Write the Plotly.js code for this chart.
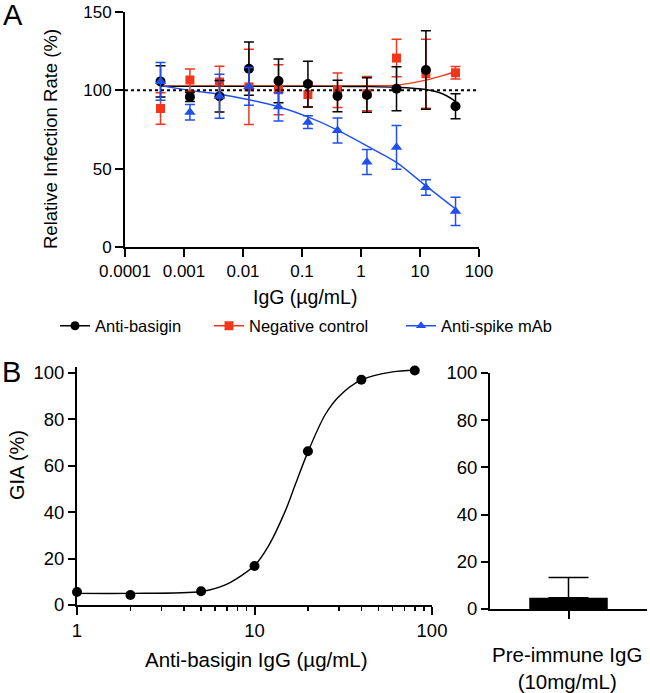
<!DOCTYPE html>
<html>
<head>
<meta charset="utf-8">
<script src="https://cdn.plot.ly/plotly-3.0.1.min.js"></script>
<style>
  html, body { margin: 0; padding: 0; background: #fff; }
  #chart { width: 650px; height: 693px; }
</style>
</head>
<body>
<div id="chart"></div>
<script>
// Panel A: infection rate vs IgG concentration (half-log dilutions)
const conc = [0.0004, 0.00126, 0.004, 0.0126, 0.04, 0.126, 0.4, 1.26, 4, 12.6, 40];
const basiginRate = [105.7, 95.8, 96.2, 113.8, 106, 104, 96.4, 97, 101, 113, 89.8];
const basiginErr = [10, 3, 10, 17, 14, 14.6, 10, 11, 14, 25, 8];
const negRate = [88.4, 106.6, 105.3, 102.2, 100.4, 97.3, 100, 97.9, 120.6, 110.6, 111.2];
const negErr = [10, 7, 10, 24, 16, 8, 11, 11, 12, 22, 4];
const spikeRate = [105.7, 86, 96.2, 102.5, 89.5, 79.7, 74.4, 54.3, 63.6, 38, 22.8];
const spikeErr = [12, 5, 14, 12, 9, 4, 8, 8, 14, 5, 9];

// fitted curves
const fitConcA = [0.0004, 0.004, 0.04, 0.4, 1.26, 4, 12.6, 25, 40];
const basiginFit = [102.5, 102.5, 102.5, 102.5, 102.4, 102, 100.5, 97.5, 93];
const negFit = [102.8, 102.8, 102.8, 102.8, 102.9, 103.3, 106.5, 109.5, 112];
const spikeFitConc = [0.0004, 0.00126, 0.004, 0.0126, 0.04, 0.126, 0.4, 1.26, 4, 12.6, 40];
const spikeFit = [103, 100, 97.5, 94, 89.5, 83, 74.6, 64.5, 54, 39, 24.3];

const aTickVals = [0.0001, 0.001, 0.01, 0.1, 1, 10, 100];
const aTickText = ["0.0001", "0.001", "0.01", "0.1", "1", "10", "100"];

// Panel B: GIA
const giaConc = [1, 2, 5, 10, 20, 40, 80];
const giaValue = [5.6, 4.3, 5.9, 16.8, 66.3, 97.1, 101.1];
const giaFitConc = [1, 2, 5, 7, 10, 12, 15, 17, 20, 25, 30, 40, 60, 80];
const giaFit = [5.0, 5.0, 5.8, 9, 17, 25.5, 41, 52, 66, 82, 90, 97, 100.5, 101.2];
const bMinorTicks = [2, 3, 4, 5, 6, 7, 8, 9, 20, 30, 40, 50, 60, 70, 80, 90];

const preImmuneLabel = ["Pre-immune IgG (10mg/mL)"];
const preImmuneValue = [4.8];
const preImmuneErr = [8.6];

const BLACK = "#000000";
const RED = "#f2361c";
const BLUE = "#1f50ee";
const FONT = "Liberation Sans, Arial, sans-serif";

function pointsTrace(y, err, color, symbol, size) {
  return {
    x: conc, y: y, type: "scatter", mode: "markers",
    xaxis: "x", yaxis: "y", showlegend: false, cliponaxis: false,
    marker: { color: color, symbol: symbol, size: size },
    error_y: { type: "data", array: err, visible: true, color: color, thickness: 1.5, width: 5 },
  };
}

function fitTrace(x, y, color, xa, ya) {
  return {
    x: x, y: y, type: "scatter", mode: "lines", xaxis: xa, yaxis: ya,
    showlegend: false, hoverinfo: "skip",
    line: { color: color, width: 1.4, shape: "spline", smoothing: 0.8 },
  };
}

// one legend per entry so each can sit where the reference puts it
function legendTrace(name, color, symbol, legendId) {
  return {
    x: [null], y: [null], type: "scatter", mode: "lines+markers", name: name,
    xaxis: "x", yaxis: "y", legend: legendId,
    line: { color: color, width: 1.5 },
    marker: { color: color, symbol: symbol, size: 9 },
  };
}

const data = [
  legendTrace("Anti-basigin", BLACK, "circle", "legend"),
  legendTrace("Negative control", RED, "square", "legend2"),
  legendTrace("Anti-spike mAb", BLUE, "triangle-up", "legend3"),
  fitTrace(fitConcA, negFit, RED, "x", "y"),
  fitTrace(fitConcA, basiginFit, BLACK, "x", "y"),
  fitTrace(spikeFitConc, spikeFit, BLUE, "x", "y"),
  pointsTrace(negRate, negErr, RED, "square", 9),
  pointsTrace(basiginRate, basiginErr, BLACK, "circle", 10),
  pointsTrace(spikeRate, spikeErr, BLUE, "triangle-up", 10),
  fitTrace(giaFitConc, giaFit, BLACK, "x2", "y2"),
  {
    x: giaConc, y: giaValue, type: "scatter", mode: "markers",
    xaxis: "x2", yaxis: "y2", showlegend: false, cliponaxis: false,
    marker: { color: BLACK, size: 10 },
  },
  {
    x: preImmuneLabel, y: preImmuneValue, type: "bar", width: 1,
    xaxis: "x3", yaxis: "y3", showlegend: false,
    marker: { color: BLACK, line: { width: 0 } },
    error_y: { type: "data", array: preImmuneErr, arrayminus: [0], symmetric: false,
               color: BLACK, thickness: 1.5, width: 20 },
  },
];

const axisBase = {
  showline: true, linecolor: BLACK, linewidth: 2, mirror: false,
  ticks: "outside", ticklen: 8, tickwidth: 2, tickcolor: BLACK,
  showgrid: false, zeroline: false, fixedrange: true,
};

function px(x) { return x / 650; }
function py(y) { return (693 - y) / 693; }

function legendAt(xPix) {
  return {
    orientation: "h", x: px(xPix), xanchor: "left", y: py(326), yanchor: "middle",
    font: { size: 16.5 }, bgcolor: "rgba(0,0,0,0)", borderwidth: 0,
  };
}

const layout = {
  width: 650, height: 693,
  margin: { l: 0, r: 0, t: 0, b: 0 },
  paper_bgcolor: "#fff", plot_bgcolor: "#fff",
  font: { family: FONT, color: BLACK, size: 17 },
  showlegend: true,
  legend: legendAt(55),
  legend2: legendAt(209),
  legend3: legendAt(401),
  xaxis: Object.assign({}, axisBase, {
    domain: [px(125), px(479)], anchor: "y", type: "log", range: [-4, 2],
    tickmode: "array", tickvals: aTickVals, ticktext: aTickText,
    tickfont: { size: 17 },
  }),
  yaxis: Object.assign({}, axisBase, {
    domain: [py(247), py(12)], anchor: "x", range: [0, 150],
    tickmode: "array", tickvals: [0, 50, 100, 150], tickfont: { size: 17 },
  }),
  xaxis2: Object.assign({}, axisBase, {
    domain: [px(77), px(432)], anchor: "y2", type: "log", range: [0, 2],
    tickmode: "array", tickvals: [1, 10, 100], ticktext: ["1", "10", "100"],
    tickfont: { size: 18.5 },
    minor: { tickmode: "array", tickvals: bMinorTicks, ticks: "outside",
             ticklen: 4, tickwidth: 1.5, tickcolor: BLACK, showgrid: false },
  }),
  // range a little above 100 so the top point stays visible; 100 still sits at y=373
  yaxis2: Object.assign({}, axisBase, {
    domain: [py(605), py(605 - 232 * 1.025)], anchor: "x2", range: [0, 102.5],
    tickmode: "linear", tick0: 0, dtick: 20, ticklen: 7, tickfont: { size: 18.5 },
  }),
  xaxis3: Object.assign({}, axisBase, {
    domain: [px(490), px(647)], anchor: "y3", type: "category", range: [-1, 1],
    showticklabels: false,
  }),
  yaxis3: Object.assign({}, axisBase, {
    domain: [py(609), py(373)], anchor: "x3", range: [0, 100],
    tickmode: "linear", tick0: 0, dtick: 20, ticklen: 7, tickfont: { size: 18.5 },
  }),
  shapes: [
    { type: "line", xref: "x domain", yref: "y", x0: 0, x1: 1, y0: 100, y1: 100,
      line: { color: BLACK, width: 2, dash: "dot" } },
  ],
  annotations: [
    { text: "A", x: px(1), y: py(15), xanchor: "left", yanchor: "middle", font: { size: 29 } },
    { text: "B", x: px(0), y: py(372), xanchor: "left", yanchor: "middle", font: { size: 29 } },
    { text: "Relative Infection Rate (%)", x: px(50), y: py(139), textangle: -90, font: { size: 18.5 } },
    { text: "IgG (µg/mL)", x: px(305), y: py(297), font: { size: 19.5 } },
    { text: "GIA (%)", x: px(17), y: py(465), textangle: -90, font: { size: 20 } },
    { text: "Anti-basigin IgG (µg/mL)", x: px(256), y: py(659), font: { size: 20.5 } },
    { text: "Pre-immune IgG<br>(10mg/mL)", x: px(567), y: py(668), font: { size: 20.5 } },
  ].map(a => Object.assign({ xref: "paper", yref: "paper", showarrow: false,
                             xanchor: "center", yanchor: "middle" }, a)),
};

Plotly.newPlot("chart", data, layout, { staticPlot: true, displayModeBar: false });
</script>
</body>
</html>
